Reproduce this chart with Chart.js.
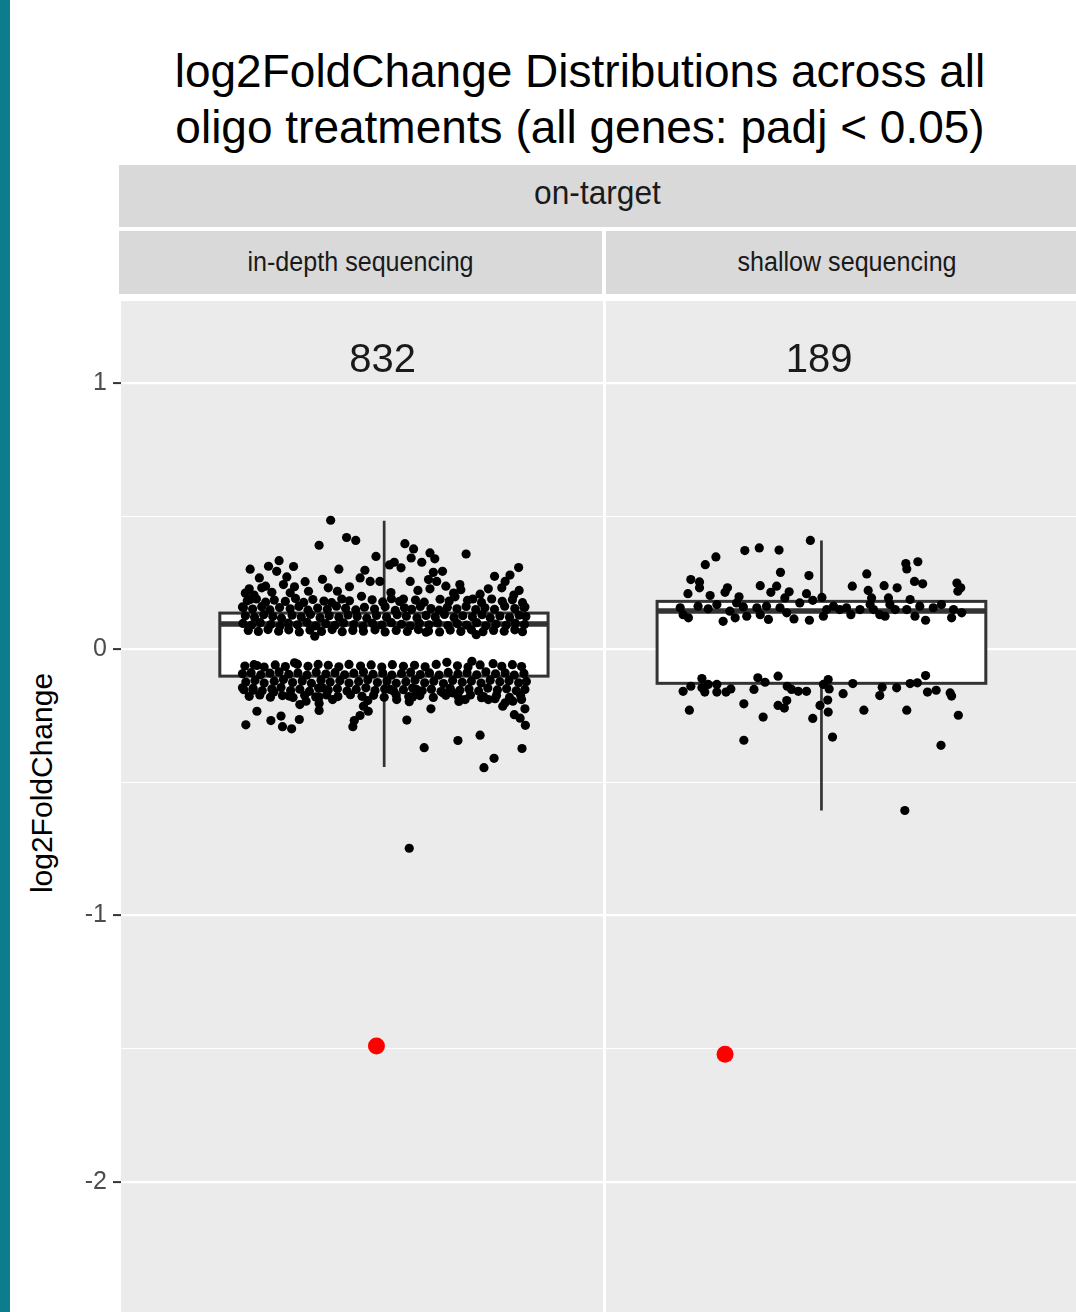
<!DOCTYPE html>
<html>
<head>
<meta charset="utf-8">
<title>log2FoldChange distributions</title>
<script src="https://cdn.jsdelivr.net/npm/chart.js@4.4.1/dist/chart.umd.min.js"></script>
<style>
    html, body { margin: 0; padding: 0; width: 1076px; height: 1312px; overflow: hidden; background: #fff; font-family: "Liberation Sans", Arial, sans-serif; }
    #sidebar { position: absolute; left: 0; top: 0; width: 10px; height: 1312px; background: #0b7d8c; }
    .title { position: absolute; left: 80px; width: 1000px; text-align: center; font-size: 46px; line-height: 46px; color: #000; white-space: nowrap; }
    .strip { position: absolute; background: #d9d9d9; overflow: hidden; }
    .strip span { position: absolute; left: 0; right: 0; text-align: center; color: #1a1a1a; white-space: nowrap; }
    #stripTop span { top: 11px; font-size: 33px; line-height: 33px; transform: scaleX(0.96); }
    .sub span { top: 18px; font-size: 27px; line-height: 27px; transform: scaleX(0.93); }
    #ytitle { position: absolute; left: -108px; top: 765px; width: 300px; height: 36px; line-height: 36px; font-size: 30px; text-align: center; color: #000; transform: rotate(-90deg); white-space: nowrap; }
    .panel { position: absolute; top: 301px; height: 1011px; }
</style>
</head>
<body>
<div id="sidebar"></div>
<div class="title" style="top:48px">log2FoldChange Distributions across all</div>
<div class="title" style="top:104px">oligo treatments (all genes: padj &lt; 0.05)</div>

<div class="strip" id="stripTop" style="left:119px; top:165px; width:957px; height:62px;"><span>on-target</span></div>
<div class="strip sub" style="left:119px; top:231px; width:483px; height:63px;"><span id="panelName0"></span></div>
<div class="strip sub" style="left:606px; top:231px; width:482px; height:63px;"><span id="panelName1"></span></div>

<div id="ytitle">log2FoldChange</div>

<div class="panel" style="left:10px; width:593px;"><canvas id="chartInDepth"></canvas></div>
<div class="panel" style="left:606px; width:482px;"><canvas id="chartShallow"></canvas></div>

<script>
// facets and labels
const panelNames = ['in-depth sequencing', 'shallow sequencing'];
const geneCounts = [832, 189];
const yTickLabels = [-2, -1, 0, 1];

// box statistics (log2FoldChange)
const lowerWhisker = [-0.442, -0.605];
const q1 = [-0.100, -0.127];
const median = [0.096, 0.145];
const q3 = [0.137, 0.181];
const upperWhisker = [0.484, 0.410];

// highlighted gene (red), [jitter, log2FoldChange]
const highlightPoints = [[0.530, -1.490], [0.247, -1.521]];

// jittered genes, [jitter, log2FoldChange]
const inDepthPoints = [
    // sparse, above
    [0.435,0.486],[0.411,0.392],[0.468,0.421],[0.487,0.410],[0.529,0.350],[0.589,0.398],[0.607,0.378],[0.641,0.363],
    [0.651,0.341],[0.716,0.359],[0.602,0.344],[0.624,0.328],[0.268,0.302],[0.306,0.313],[0.328,0.334],[0.323,0.294],
    [0.358,0.312],[0.452,0.302],[0.418,0.264],[0.382,0.255],[0.506,0.298],[0.496,0.269],[0.557,0.318],[0.567,0.328],
    [0.581,0.307],[0.648,0.290],[0.667,0.294],[0.825,0.308],[0.807,0.280],[0.775,0.275],[0.797,0.256],[0.762,0.228],
    [0.826,0.222],[0.287,0.269],[0.344,0.273],[0.337,0.244],[0.292,0.232],[0.266,0.228],[0.313,0.215],[0.517,0.256],
    [0.537,0.256],[0.600,0.256],[0.638,0.263],[0.655,0.256],[0.674,0.238],[0.703,0.244],[0.705,0.225],[0.641,0.228],
    [0.449,0.219],[0.389,0.219],[0.499,0.200],[0.586,0.190],[0.693,0.198],[0.730,0.190],[0.351,0.213],[0.268,0.188],
    [0.252,0.160],[0.838,0.160],[0.633,0.065],[0.737,0.056],[0.402,0.050],
    [0.276,0.205],[0.300,0.238],[0.360,0.236],[0.430,0.232],[0.474,0.236],[0.560,0.214],[0.616,0.222],[0.690,0.212],
    [0.745,0.208],[0.790,0.232],[0.815,0.205],[0.258,0.212],
    // dense, above
    [0.262,0.183],[0.281,0.190],[0.300,0.178],[0.318,0.186],[0.341,0.181],[0.362,0.192],[0.379,0.177],[0.398,0.188],
    [0.421,0.182],[0.437,0.176],[0.458,0.190],[0.474,0.183],[0.521,0.187],[0.543,0.179],[0.561,0.191],[0.578,0.181],
    [0.611,0.186],[0.629,0.178],[0.662,0.189],[0.681,0.182],[0.719,0.185],[0.748,0.177],[0.769,0.190],[0.791,0.181],
    [0.812,0.187],[0.833,0.176],
    [0.254,0.157],[0.273,0.152],[0.292,0.161],[0.309,0.149],[0.329,0.158],[0.351,0.153],[0.369,0.162],[0.388,0.148],
    [0.408,0.156],[0.428,0.151],[0.447,0.163],[0.466,0.155],[0.487,0.149],[0.505,0.159],[0.526,0.152],[0.548,0.161],
    [0.569,0.147],[0.588,0.157],[0.603,0.151],[0.621,0.162],[0.643,0.154],[0.660,0.148],[0.677,0.159],[0.697,0.153],
    [0.716,0.162],[0.736,0.150],[0.755,0.157],[0.775,0.151],[0.796,0.163],[0.817,0.154],[0.836,0.158],
    [0.258,0.127],[0.277,0.121],[0.296,0.131],[0.315,0.124],[0.333,0.118],[0.355,0.129],[0.374,0.122],[0.393,0.132],
    [0.413,0.119],[0.432,0.127],[0.452,0.121],[0.471,0.130],[0.490,0.124],[0.510,0.118],[0.530,0.128],[0.551,0.121],
    [0.573,0.131],[0.592,0.125],[0.614,0.119],[0.633,0.128],[0.652,0.122],[0.671,0.132],[0.691,0.120],[0.709,0.127],
    [0.729,0.123],[0.749,0.131],[0.766,0.119],[0.786,0.126],[0.806,0.121],[0.826,0.129],[0.840,0.124],
    [0.253,0.098],[0.271,0.092],[0.289,0.101],[0.311,0.094],[0.330,0.088],[0.347,0.099],[0.366,0.093],[0.386,0.102],
    [0.404,0.089],[0.425,0.097],[0.444,0.091],[0.462,0.100],[0.483,0.094],[0.502,0.087],[0.522,0.098],[0.541,0.092],
    [0.561,0.101],[0.582,0.095],[0.600,0.088],[0.619,0.099],[0.639,0.093],[0.657,0.100],[0.678,0.090],[0.698,0.097],
    [0.717,0.092],[0.738,0.101],[0.757,0.089],[0.778,0.096],[0.799,0.091],[0.818,0.099],[0.837,0.094],
    [0.264,0.072],[0.285,0.068],[0.305,0.075],[0.327,0.069],[0.348,0.074],[0.370,0.066],[0.392,0.073],[0.416,0.068],
    [0.438,0.075],[0.459,0.067],[0.481,0.072],[0.503,0.069],[0.527,0.074],[0.548,0.066],[0.571,0.072],[0.594,0.068],
    [0.617,0.075],[0.638,0.070],[0.661,0.066],[0.683,0.073],[0.705,0.068],[0.727,0.074],[0.751,0.067],[0.773,0.072],
    [0.795,0.069],[0.817,0.074],[0.833,0.067],
    // dense, below
    [0.257,-0.062],[0.276,-0.057],[0.297,-0.066],[0.320,-0.058],[0.341,-0.064],[0.366,-0.055],[0.388,-0.063],[0.430,-0.059],
    [0.452,-0.065],[0.473,-0.056],[0.497,-0.062],[0.519,-0.058],[0.541,-0.066],[0.563,-0.057],[0.586,-0.063],[0.609,-0.059],
    [0.631,-0.065],[0.654,-0.056],[0.698,-0.061],[0.720,-0.066],[0.745,-0.058],[0.790,-0.063],[0.812,-0.057],[0.831,-0.064],
    [0.252,-0.091],[0.270,-0.087],[0.290,-0.095],[0.309,-0.089],[0.328,-0.084],[0.348,-0.093],[0.367,-0.088],[0.386,-0.096],
    [0.405,-0.085],[0.425,-0.092],[0.444,-0.087],[0.464,-0.095],[0.483,-0.089],[0.503,-0.084],[0.523,-0.093],[0.543,-0.088],
    [0.562,-0.096],[0.582,-0.090],[0.601,-0.085],[0.621,-0.094],[0.640,-0.088],[0.660,-0.096],[0.679,-0.086],[0.699,-0.092],
    [0.718,-0.087],[0.738,-0.095],[0.757,-0.084],[0.777,-0.091],[0.797,-0.088],[0.816,-0.096],[0.836,-0.090],
    [0.259,-0.122],[0.278,-0.116],[0.297,-0.126],[0.318,-0.119],[0.337,-0.113],[0.356,-0.124],[0.376,-0.118],[0.395,-0.127],
    [0.415,-0.115],[0.434,-0.122],[0.454,-0.117],[0.473,-0.126],[0.493,-0.120],[0.512,-0.114],[0.532,-0.124],[0.552,-0.118],
    [0.571,-0.127],[0.591,-0.121],[0.610,-0.115],[0.630,-0.125],[0.649,-0.119],[0.669,-0.128],[0.688,-0.116],[0.708,-0.123],
    [0.727,-0.118],[0.747,-0.126],[0.766,-0.115],[0.786,-0.121],[0.805,-0.117],[0.825,-0.125],[0.841,-0.120],
    [0.255,-0.151],[0.274,-0.146],[0.293,-0.155],[0.313,-0.148],[0.332,-0.143],[0.352,-0.154],[0.371,-0.149],[0.391,-0.157],
    [0.410,-0.145],[0.430,-0.152],[0.449,-0.147],[0.469,-0.156],[0.488,-0.150],[0.508,-0.144],[0.527,-0.154],[0.547,-0.148],
    [0.566,-0.157],[0.586,-0.151],[0.605,-0.145],[0.625,-0.155],[0.644,-0.149],[0.664,-0.158],[0.683,-0.146],[0.703,-0.153],
    [0.722,-0.148],[0.742,-0.156],[0.761,-0.145],[0.781,-0.152],[0.800,-0.147],[0.820,-0.155],[0.838,-0.150],
    [0.266,-0.176],[0.288,-0.171],[0.310,-0.179],[0.335,-0.173],[0.357,-0.180],[0.381,-0.172],[0.404,-0.178],[0.427,-0.171],
    [0.450,-0.177],[0.476,-0.170],[0.500,-0.176],[0.524,-0.172],[0.546,-0.179],[0.571,-0.171],[0.597,-0.177],[0.620,-0.173],
    [0.648,-0.180],[0.674,-0.172],[0.700,-0.178],[0.725,-0.171],[0.752,-0.177],[0.779,-0.173],[0.806,-0.180],[0.829,-0.172],
    // sparse, below
    [0.252,-0.144],[0.282,-0.232],[0.259,-0.283],[0.311,-0.267],[0.332,-0.250],[0.335,-0.290],[0.354,-0.298],[0.370,-0.263],
    [0.274,-0.153],[0.317,-0.160],[0.349,-0.175],[0.371,-0.207],[0.384,-0.194],[0.411,-0.178],[0.411,-0.203],[0.411,-0.229],
    [0.418,-0.144],[0.439,-0.188],[0.481,-0.290],[0.484,-0.267],[0.496,-0.248],[0.513,-0.232],[0.503,-0.213],[0.512,-0.192],
    [0.572,-0.188],[0.593,-0.265],[0.598,-0.196],[0.605,-0.178],[0.643,-0.223],[0.629,-0.369],[0.699,-0.342],[0.701,-0.195],
    [0.714,-0.188],[0.745,-0.322],[0.753,-0.444],[0.774,-0.409],[0.832,-0.372],[0.839,-0.285],[0.838,-0.223],[0.816,-0.245],
    [0.828,-0.258],[0.792,-0.213],[0.797,-0.200],[0.748,-0.181],[0.762,-0.188],[0.776,-0.185],[0.813,-0.194],[0.831,-0.188],
    [0.558,-0.150],[0.613,-0.150],[0.669,-0.163],[0.689,-0.163],[0.598,-0.747],[0.728,-0.044],[0.676,-0.048],[0.772,-0.053],
    [0.282,-0.060],[0.360,-0.050],[0.409,-0.056]
];

const shallowPoints = [
    // above
    [0.424,0.410],[0.288,0.372],[0.318,0.382],[0.359,0.374],[0.228,0.348],[0.206,0.319],[0.362,0.290],[0.421,0.278],
    [0.176,0.263],[0.194,0.254],[0.194,0.232],[0.320,0.240],[0.354,0.238],[0.342,0.215],[0.252,0.232],[0.247,0.215],
    [0.170,0.210],[0.216,0.203],[0.276,0.198],[0.380,0.217],[0.371,0.194],[0.416,0.210],[0.429,0.185],[0.448,0.196],
    [0.541,0.284],[0.511,0.238],[0.544,0.222],[0.577,0.240],[0.604,0.232],[0.622,0.323],[0.624,0.303],[0.647,0.330],
    [0.640,0.256],[0.657,0.247],[0.728,0.250],[0.736,0.232],[0.730,0.219],[0.586,0.194],[0.551,0.194],[0.631,0.188],
    // around the median
    [0.154,0.157],[0.160,0.131],[0.171,0.119],[0.191,0.163],[0.212,0.153],[0.243,0.106],[0.257,0.144],[0.268,0.119],
    [0.271,0.175],[0.285,0.160],[0.313,0.157],[0.320,0.131],[0.337,0.113],[0.333,0.163],[0.361,0.157],[0.375,0.138],
    [0.390,0.115],[0.402,0.175],[0.422,0.110],[0.451,0.125],[0.472,0.163],[0.485,0.150],[0.508,0.131],[0.527,0.150],
    [0.548,0.169],[0.568,0.131],[0.579,0.125],[0.600,0.150],[0.624,0.150],[0.641,0.125],[0.663,0.110],[0.679,0.157],
    [0.696,0.169],[0.717,0.119],[0.738,0.138],[0.458,0.150],[0.499,0.157],[0.589,0.169],[0.651,0.163],[0.721,0.150],
    [0.555,0.150],[0.230,0.169],[0.292,0.125],
    // below
    [0.199,-0.109],[0.315,-0.106],[0.357,-0.100],[0.663,-0.098],[0.160,-0.157],[0.176,-0.138],[0.199,-0.144],[0.205,-0.160],
    [0.212,-0.131],[0.230,-0.131],[0.230,-0.160],[0.249,-0.160],[0.259,-0.148],[0.307,-0.150],[0.330,-0.123],[0.376,-0.138],
    [0.385,-0.150],[0.399,-0.157],[0.416,-0.157],[0.451,-0.131],[0.461,-0.113],[0.463,-0.148],[0.492,-0.166],[0.512,-0.128],
    [0.573,-0.142],[0.568,-0.173],[0.603,-0.144],[0.631,-0.128],[0.646,-0.125],[0.667,-0.160],[0.685,-0.153],[0.714,-0.163],
    [0.717,-0.175],[0.173,-0.228],[0.286,-0.204],[0.326,-0.254],[0.357,-0.210],[0.370,-0.220],[0.375,-0.192],[0.429,-0.259],
    [0.444,-0.210],[0.460,-0.190],[0.461,-0.235],[0.470,-0.329],[0.535,-0.228],[0.624,-0.228],[0.286,-0.341],[0.695,-0.360],
    [0.731,-0.247],[0.620,-0.605]
];

// layout of the boxes inside each panel (fraction of panel width)
const boxEdges = [[0.205, 0.886], [0.106, 0.788]];
const boxCenter = [0.546, 0.447];
const countLabelX = [0.543, 0.442];
const countLabelY = 1.045;

const yMin = -2.49;
const yMax = 1.31;

Chart.defaults.font.family = '"Liberation Sans", Arial, sans-serif';

const panelBackground = {
    id: 'panelBackground',
    beforeDraw(chart) {
        const { ctx, chartArea } = chart;
        ctx.save();
        ctx.fillStyle = '#ebebeb';
        ctx.fillRect(chartArea.left, chartArea.top, chartArea.right - chartArea.left, chartArea.bottom - chartArea.top);
        ctx.restore();
    }
};

const boxplot = {
    id: 'boxplot',
    beforeDatasetsDraw(chart, args, opts) {
        const i = opts.panel;
        const { ctx } = chart;
        const xs = chart.scales.x;
        const ys = chart.scales.y;
        const cx = xs.getPixelForValue(boxCenter[i]);
        const x0 = xs.getPixelForValue(boxEdges[i][0]);
        const x1 = xs.getPixelForValue(boxEdges[i][1]);
        const top = ys.getPixelForValue(q3[i]);
        const bottom = ys.getPixelForValue(q1[i]);
        const mid = ys.getPixelForValue(median[i]);

        ctx.save();
        ctx.strokeStyle = '#333333';
        ctx.lineWidth = 2.7;
        ctx.beginPath();
        ctx.moveTo(cx, ys.getPixelForValue(upperWhisker[i]));
        ctx.lineTo(cx, top);
        ctx.moveTo(cx, bottom);
        ctx.lineTo(cx, ys.getPixelForValue(lowerWhisker[i]));
        ctx.stroke();

        ctx.fillStyle = '#ffffff';
        ctx.fillRect(x0, top, x1 - x0, bottom - top);
        ctx.lineWidth = 3;
        ctx.strokeRect(x0, top, x1 - x0, bottom - top);

        ctx.lineWidth = 5.5;
        ctx.beginPath();
        ctx.moveTo(x0, mid);
        ctx.lineTo(x1, mid);
        ctx.stroke();
        ctx.restore();
    },
    afterDraw(chart, args, opts) {
        const i = opts.panel;
        const { ctx } = chart;
        ctx.save();
        ctx.fillStyle = '#1a1a1a';
        ctx.font = '40px "Liberation Sans", Arial, sans-serif';
        ctx.textAlign = 'center';
        ctx.textBaseline = 'alphabetic';
        ctx.fillText(String(geneCounts[i]),
            chart.scales.x.getPixelForValue(countLabelX[i]),
            chart.scales.y.getPixelForValue(countLabelY));
        ctx.restore();
    }
};

function makeChart(canvasId, i, points, withAxis) {
    const ctx = document.getElementById(canvasId).getContext('2d');
    return new Chart(ctx, {
        type: 'scatter',
        data: {
            datasets: [
                {
                    label: panelNames[i],
                    data: points.map(p => ({ x: p[0], y: p[1] })),
                    backgroundColor: '#000000',
                    borderWidth: 0,
                    pointRadius: 4.6,
                    pointHoverRadius: 4.6
                },
                {
                    label: 'highlight',
                    data: [{ x: highlightPoints[i][0], y: highlightPoints[i][1] }],
                    backgroundColor: '#ff0000',
                    borderWidth: 0,
                    pointRadius: 8.5,
                    pointHoverRadius: 8.5
                }
            ]
        },
        options: {
            responsive: true,
            maintainAspectRatio: false,
            animation: false,
            events: [],
            layout: { padding: 0, autoPadding: false },
            scales: {
                x: { type: 'linear', min: 0, max: 1, display: false },
                y: {
                    type: 'linear',
                    min: yMin,
                    max: yMax,
                    afterFit: scale => {
                        scale.width = withAxis ? 111 : 0;
                        scale.paddingTop = 0;
                        scale.paddingBottom = 0;
                    },
                    border: { display: false },
                    grid: {
                        color: '#ffffff',
                        lineWidth: c => (c.tick && Number.isInteger(c.tick.value)) ? 2.2 : 1.1,
                        drawTicks: withAxis,
                        tickLength: 8,
                        tickWidth: 2,
                        tickColor: c => (c.tick && yTickLabels.includes(c.tick.value)) ? '#333333' : 'rgba(0,0,0,0)'
                    },
                    ticks: {
                        display: withAxis,
                        stepSize: 0.5,
                        includeBounds: false,
                        padding: 6,
                        color: '#4d4d4d',
                        font: { size: 25 },
                        callback: value => yTickLabels.includes(value) ? String(value) : ''
                    }
                }
            },
            plugins: {
                legend: { display: false },
                tooltip: { enabled: false },
                boxplot: { panel: i }
            }
        },
        plugins: [panelBackground, boxplot]
    });
}

document.getElementById('panelName0').textContent = panelNames[0];
document.getElementById('panelName1').textContent = panelNames[1];

makeChart('chartInDepth', 0, inDepthPoints, true);
makeChart('chartShallow', 1, shallowPoints, false);
</script>
</body>
</html>
